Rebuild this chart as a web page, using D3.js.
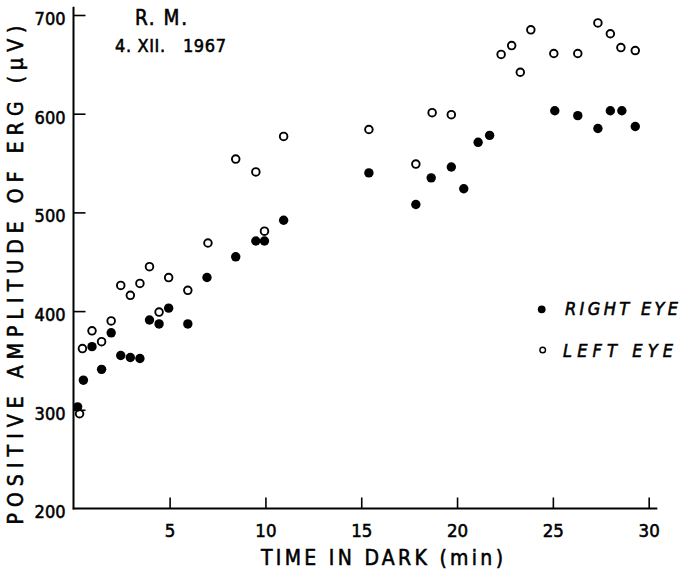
<!DOCTYPE html>
<html>
<head>
<meta charset="utf-8">
<script src="https://cdn.jsdelivr.net/npm/d3@7"></script>
<style>
  html, body { margin: 0; padding: 0; background: #fff; }
  svg { display: block; }
  text { font-family: "DejaVu Sans Condensed", "DejaVu Sans", sans-serif; fill: #000; stroke: #000; stroke-width: 0.55px; }
</style>
</head>
<body>
<svg id="chart" width="683" height="569"></svg>
<script>
// ---- data ----
const rightTimes = [0.2, 0.5, 0.95, 1.45, 1.95, 2.45, 2.95, 3.45, 3.95, 4.45, 4.95, 5.95, 6.95, 8.45, 9.5, 9.95, 10.95, 15.4, 17.85, 18.65, 19.7, 20.35, 21.1, 21.7, 25.1, 26.3, 27.35, 28.0, 28.6, 29.3];
const rightValues = [303, 330, 364, 341, 378, 355, 353, 352, 391, 387, 403, 387, 434, 455, 471, 471, 492, 540, 508, 535, 546, 524, 571, 578, 603, 598, 585, 603, 603, 587];
const leftTimes = [0.3, 0.45, 0.95, 1.45, 1.95, 2.45, 2.95, 3.45, 3.95, 4.45, 4.95, 5.95, 7.0, 8.45, 9.5, 9.95, 10.95, 15.4, 17.85, 18.7, 19.7, 22.3, 22.85, 23.3, 23.85, 25.05, 26.3, 27.35, 28.0, 28.55, 29.3];
const leftValues = [296, 362, 380, 369, 390, 426, 416, 428, 445, 399, 434, 421, 469, 554, 541, 481, 577, 584, 549, 601, 599, 660, 669, 642, 685, 661, 661, 692, 681, 667, 664];
const xTicks = [5, 10, 15, 20, 25, 30];
const yTicks = [200, 300, 400, 500, 600, 700];
const seriesNames = ["RIGHT EYE", "LEFT EYE"];

// ---- scales ----
const svg = d3.select("#chart");
const x = d3.scaleLinear().domain([0, 30.45]).range([73.8, 657.3]);
const y = d3.scaleLinear().domain([200, 708.4]).range([508.5, 6.7]);

// ---- axes ----
const xAxis = d3.axisBottom(x).tickValues(xTicks).tickSize(-11).tickPadding(0).tickSizeOuter(0).tickFormat(d3.format("d"));
const gx = svg.append("g").attr("transform", `translate(0,${y(200)})`).call(xAxis);
gx.select(".domain").attr("stroke", "#000").attr("stroke-width", 2).attr("d", `M${x.range()[0] - 1},0H${x.range()[1]}`);
gx.selectAll(".tick line").attr("stroke", "#000").attr("stroke-width", 1.6);
gx.selectAll(".tick text").attr("font-size", 18.5).attr("dy", null).attr("y", 28)
  .style("font-family", '"DejaVu Sans Condensed", sans-serif');

const yAxis = d3.axisLeft(y).tickValues(yTicks).tickSize(-12).tickPadding(8).tickSizeOuter(0).tickFormat(d3.format("d"));
const gy = svg.append("g").attr("transform", `translate(${x(0) - 0.3},0)`).call(yAxis);
gy.select(".domain").attr("stroke", "#000").attr("stroke-width", 2).attr("d", `M0,${y.range()[0] + 1}V${y.range()[1]}`);
gy.selectAll(".tick line").attr("stroke", "#000").attr("stroke-width", 1.6)
  .attr("opacity", d => d === 200 ? 0 : 1);
gy.selectAll(".tick text").attr("font-size", 18).attr("dy", "0.36em")
  .attr("transform", "translate(0,3)")
  .style("font-family", '"DejaVu Sans Condensed", sans-serif');

// ---- axis titles ----
svg.append("text")
  .attr("x", 261).attr("y", 565)
  .attr("font-size", 21)
  .attr("textLength", 242).attr("lengthAdjust", "spacing")
  .text("TIME IN DARK (min)");

svg.append("text")
  .attr("transform", "translate(23,275) rotate(-90)")
  .attr("text-anchor", "middle")
  .attr("font-size", 21)
  .attr("textLength", 499).attr("lengthAdjust", "spacing")
  .text("POSITIVE AMPLITUDE OF ERG (\u00b5V)");

// ---- annotation ----
svg.append("text").attr("x", 135).attr("y", 25).attr("font-size", 20.5)
  .attr("textLength", 52).attr("lengthAdjust", "spacing").text("R. M.");
svg.append("text").attr("x", 115).attr("y", 52).attr("font-size", 18)
  .attr("textLength", 111).attr("lengthAdjust", "spacing").text("4. XII.\u00a0\u00a0\u00a01967");

// ---- points ----
const rightData = rightTimes.map((t, i) => ({ t, v: rightValues[i] }));
const leftData = leftTimes.map((t, i) => ({ t, v: leftValues[i] }));

svg.append("g").selectAll("circle").data(leftData).join("circle")
  .attr("cx", d => x(d.t)).attr("cy", d => y(d.v)).attr("r", 3.8)
  .attr("fill", "#fff").attr("stroke", "#000").attr("stroke-width", 1.9);

svg.append("g").selectAll("circle").data(rightData).join("circle")
  .attr("cx", d => x(d.t)).attr("cy", d => y(d.v)).attr("r", 4.7)
  .attr("fill", "#000");

// ---- legend ----
const legend = svg.append("g");
legend.append("circle").attr("cx", 541.7).attr("cy", 309.3).attr("r", 3.9).attr("fill", "#000");
legend.append("circle").attr("cx", 542.7).attr("cy", 350).attr("r", 2.8).attr("fill", "#fff").attr("stroke", "#000").attr("stroke-width", 1.4);
legend.append("text").attr("x", 565).attr("y", 315).attr("font-size", 18).attr("font-style", "italic")
  .attr("textLength", 113).attr("lengthAdjust", "spacing").text(seriesNames[0]);
legend.append("text").attr("x", 563).attr("y", 356.7).attr("font-size", 18).attr("font-style", "italic")
  .attr("textLength", 110).attr("lengthAdjust", "spacing").text(seriesNames[1]);
</script>
</body>
</html>
